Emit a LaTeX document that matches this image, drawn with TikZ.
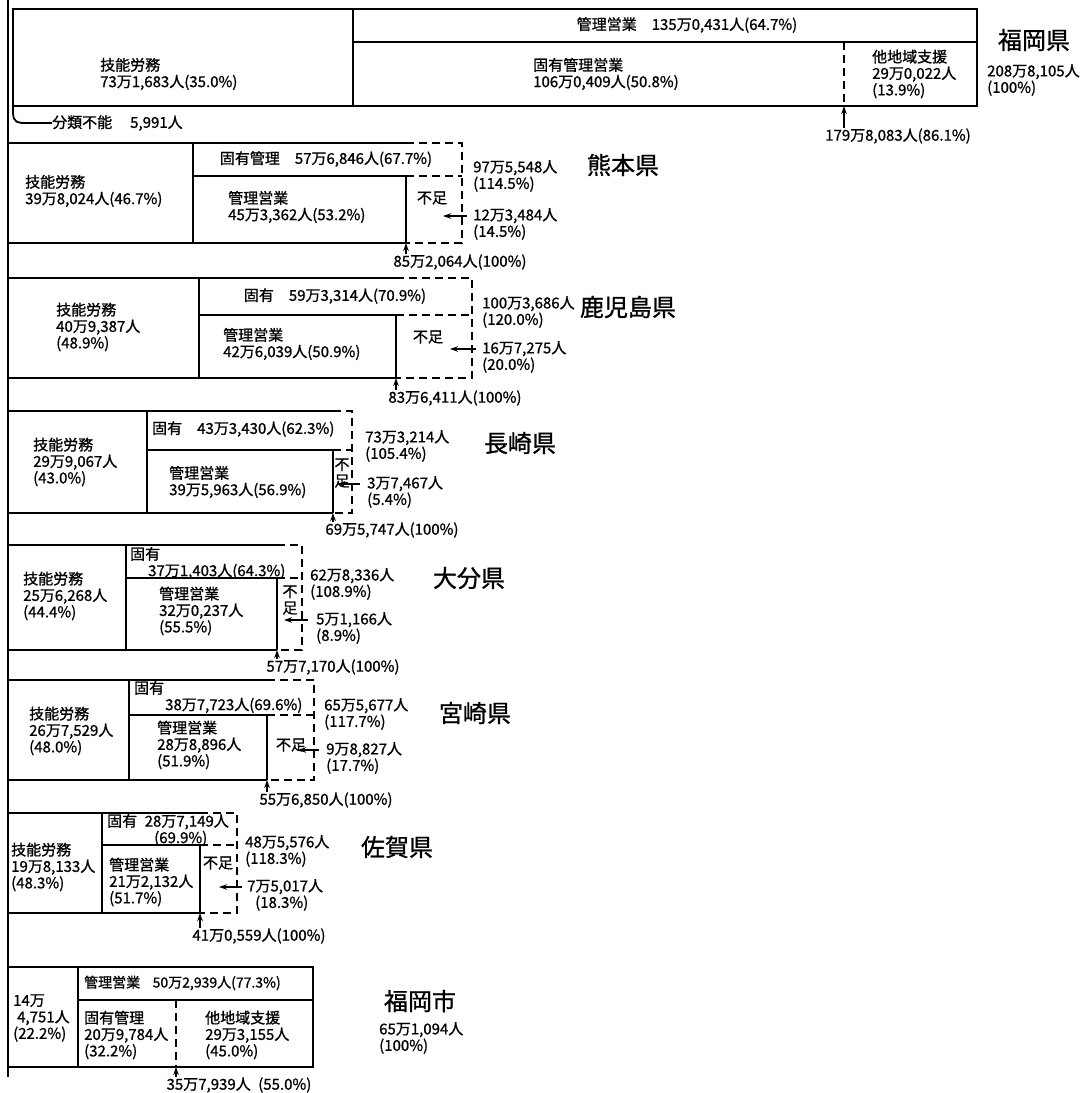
\documentclass[tikz,border=0pt]{standalone}
\usepackage{fontspec}
\setmainfont{Noto Sans CJK JP}[FakeBold=1]
\usetikzlibrary{arrows.meta}
\begin{document}
\begin{tikzpicture}[x=1pt,y=-1pt,>={Stealth[length=8pt,width=5.5pt]},
	every node/.style={inner sep=0pt,align=left,font=\fontsize{15}{16.5}\selectfont},
	box/.style={line width=2.4pt},
	dbox/.style={line width=2.4pt,dash pattern=on 8pt off 5pt},
	pname/.style={font=\fontsize{24}{28}\selectfont},
	arr/.style={->,line width=1.2pt}]
	\useasboundingbox (0,0) rectangle (1082,1093);
	\draw[box] (8,0) -- (8,1077); % tronc commun
	% Fukuoka-ken
	\draw[box] (13,9) rectangle (977,106);
	\draw[box] (353,9) -- (353,106) (353,42) -- (977,42);
	\draw[dbox] (844,42) -- (844,106);
	\node[anchor=west] (fkgino) at (100,74) {技能労務\\73万1,683人(35.0\%)};
	\node (fkkanri) at (687,25) {管理営業\quad 135万0,431人(64.7\%)};
	\node[anchor=west] (fkkoyu) at (533,74) {固有管理営業\\106万0,409人(50.8\%)};
	\node[anchor=west] (fktachi) at (872,74) {他地域支援\\29万0,022人\\(13.9\%)};
	\node[pname] (fkname) at (1034,40) {福岡県};
	\node[anchor=west] (fktotal) at (987,80) {208万8,105人\\(100\%)};
	\node (fksub) at (898,136) {179万8,083人(86.1\%)};
	\node[anchor=west] (fkunk) at (52,123) {分類不能\hspace{18pt}5,991人};
	\coordinate (fkcorner) at (13,106);
	\coordinate (fkend) at (844,106);
	\draw[line width=1.8pt] (fkcorner) -- (13,112) .. controls (13,123) and (18,123) .. (26,123) -- (fkunk.west);
	\draw[arr] (fksub.north -| fkend) -- (fkend);
	% Kumamoto
	\draw[box] (8,143) -- (406,143) (8,243) -- (406,243) (193,143) -- (193,243) (193,176) -- (406,176) -- (406,243);
	\draw[dbox] (406,143) -- (462,143) -- (462,243) -- (406,243) (406,176) -- (462,176);
	\node[anchor=west] (kugino) at (25,191) {技能労務\\39万8,024人(46.7\%)};
	\node (kukoyu) at (326,159) {固有管理\quad 57万6,846人(67.7\%)};
	\node[anchor=west] (kukanri) at (228,207) {管理営業\\45万3,362人(53.2\%)};
	\node (kufusoku) at (432,198) {不足};
	\node[anchor=west] (kusum) at (473,176) {97万5,548人\\(114.5\%)};
	\node[anchor=west] (kuneed) at (473,224) {12万3,484人\\(14.5\%)};
	\node[pname] (kuname) at (623,165) {熊本県};
	\node (kutotal) at (460,262) {85万2,064人(100\%)};
	\coordinate (kuend) at (406,243);
	\coordinate (kutail) at (467,216);
	\coordinate (kutip) at (443,216);
	\draw[arr] (kutail) -- (kutip);
	\draw[arr] (kutotal.north -| kuend) -- (kuend);
	% Kagoshima
	\draw[box] (8,278) -- (396,278) (8,378) -- (396,378) (199,278) -- (199,378) (199,315) -- (396,315) -- (396,378);
	\draw[dbox] (396,278) -- (472,278) -- (472,378) -- (396,378) (396,315) -- (472,315);
	\node[anchor=west] (kggino) at (56,327) {技能労務\\40万9,387人\\(48.9\%)};
	\node (kgkoyu) at (335,296) {固有\quad 59万3,314人(70.9\%)};
	\node[anchor=west] (kgkanri) at (223,344) {管理営業\\42万6,039人(50.9\%)};
	\node (kgfusoku) at (428,337) {不足};
	\node[anchor=west] (kgsum) at (482,312) {100万3,686人\\(120.0\%)};
	\node[anchor=west] (kgneed) at (482,357) {16万7,275人\\(20.0\%)};
	\node[pname] (kgname) at (628,307) {鹿児島県};
	\node (kgtotal) at (455,398) {83万6,411人(100\%)};
	\coordinate (kgend) at (396,378);
	\coordinate (kgtail) at (476,349);
	\coordinate (kgtip) at (450,349);
	\draw[arr] (kgtail) -- (kgtip);
	\draw[arr] (kgtotal.north -| kgend) -- (kgend);
	% Nagasaki
	\draw[box] (8,411) -- (333,411) (8,513) -- (333,513) (147,411) -- (147,513) (147,450) -- (333,450) -- (333,513);
	\draw[dbox] (333,411) -- (352,411) -- (352,513) -- (333,513) (333,450) -- (352,450);
	\node[anchor=west] (nsgino) at (33,462) {技能労務\\29万9,067人\\(43.0\%)};
	\node[anchor=west] (nskoyu) at (152,429) {固有\quad 43万3,430人(62.3\%)};
	\node[anchor=west] (nskanri) at (169,482) {管理営業\\39万5,963人(56.9\%)};
	\node (nsfusoku) at (342,473) {不\\足};
	\node[anchor=west] (nssum) at (365,446) {73万3,214人\\(105.4\%)};
	\node[anchor=west] (nsneed) at (367,492) {3万7,467人\\(5.4\%)};
	\node[pname] (nsname) at (520,443) {長崎県};
	\node (nstotal) at (392,530) {69万5,747人(100\%)};
	\coordinate (nsend) at (333,513);
	\coordinate (nstail) at (360,484);
	\coordinate (nstip) at (337,484);
	\draw[arr] (nstail) -- (nstip);
	\draw[arr] (nstotal.north -| nsend) -- (nsend);
	% Oita
	\draw[box] (8,545) -- (277,545) (8,650) -- (277,650) (126,545) -- (126,650) (126,578) -- (277,578) -- (277,650);
	\draw[dbox] (277,545) -- (302,545) -- (302,650) -- (277,650) (277,578) -- (302,578);
	\node[anchor=west] (otgino) at (23,596) {技能労務\\25万6,268人\\(44.4\%)};
	\node[anchor=west] (otkoyu) at (130,563) {固有\\\hspace*{18pt}37万1,403人(64.3\%)};
	\node[anchor=west] (otkanri) at (159,611) {管理営業\\32万0,237人\\(55.5\%)};
	\node (otfusoku) at (290,600) {不\\足};
	\node[anchor=west] (otsum) at (310,584) {62万8,336人\\(108.9\%)};
	\node[anchor=west] (otneed) at (316,628) {5万1,166人\\(8.9\%)};
	\node[pname] (otname) at (469,578) {大分県};
	\node (ottotal) at (333,667) {57万7,170人(100\%)};
	\coordinate (otend) at (277,650);
	\coordinate (ottail) at (308,620);
	\coordinate (ottip) at (284,620);
	\draw[arr] (ottail) -- (ottip);
	\draw[arr] (ottotal.north -| otend) -- (otend);
	% Miyazaki
	\draw[box] (8,680) -- (267,680) (8,780) -- (267,780) (129,680) -- (129,780) (129,715) -- (267,715) -- (267,780);
	\draw[dbox] (267,680) -- (314,680) -- (314,780) -- (267,780) (267,715) -- (314,715);
	\node[anchor=west] (mzgino) at (29,731) {技能労務\\26万7,529人\\(48.0\%)};
	\node[anchor=west] (mzkoyu) at (134,697) {固有\\\hspace*{31pt}38万7,723人(69.6\%)};
	\node[anchor=west] (mzkanri) at (157,745) {管理営業\\28万8,896人\\(51.9\%)};
	\node (mzfusoku) at (291,745) {不足};
	\node[anchor=west] (mzsum) at (324,714) {65万5,677人\\(117.7\%)};
	\node[anchor=west] (mzneed) at (326,758) {9万8,827人\\(17.7\%)};
	\node[pname] (mzname) at (475,713) {宮崎県};
	\node (mztotal) at (326,800) {55万6,850人(100\%)};
	\coordinate (mzend) at (267,780);
	\coordinate (mztail) at (319,750);
	\coordinate (mztip) at (298,750);
	\draw[arr] (mztail) -- (mztip);
	\draw[arr] (mztotal.north -| mzend) -- (mzend);
	% Saga
	\draw[box] (8,813) -- (200,813) (8,913) -- (200,913) (102,813) -- (102,913) (102,845) -- (200,845) -- (200,913);
	\draw[dbox] (200,813) -- (237,813) -- (237,913) -- (200,913) (200,845) -- (237,845);
	\node[anchor=west] (sggino) at (11,867) {技能労務\\19万8,133人\\(48.3\%)};
	\node[anchor=west] (sgkoyu) at (107,830) {固有\enspace 28万7,149人\\\hspace*{47pt}(69.9\%)};
	\node[anchor=west] (sgkanri) at (109,882) {管理営業\\21万2,132人\\(51.7\%)};
	\node (sgfusoku) at (218,863) {不足};
	\node[anchor=west] (sgsum) at (245,851) {48万5,576人\\(118.3\%)};
	\node[anchor=west] (sgneed) at (247,895) {7万5,017人\\\hspace*{8pt}(18.3\%)};
	\node[pname] (sgname) at (397,847) {佐賀県};
	\node (sgtotal) at (259,936) {41万0,559人(100\%)};
	\coordinate (sgend) at (200,913);
	\coordinate (sgtail) at (242,887);
	\coordinate (sgtip) at (219,887);
	\draw[arr] (sgtail) -- (sgtip);
	\draw[arr] (sgtotal.north -| sgend) -- (sgend);
	% Fukuoka-shi
	\draw[box] (8,967) -- (313,967) -- (313,1067) -- (8,1067) (78,967) -- (78,1067) (78,1000) -- (313,1000);
	\draw[dbox] (176,1000) -- (176,1067);
	\node[anchor=west] (fsleft) at (13,1018) {14万\\\hspace*{4pt}4,751人\\(22.2\%)};
	\node[anchor=west,font=\fontsize{14}{16.5}\selectfont] (fskanri) at (84,983) {管理営業\enspace\, 50万2,939人(77.3\%)};
	\node[anchor=west] (fskoyu) at (84,1035) {固有管理\\20万9,784人\\(32.2\%)};
	\node[anchor=west] (fstachi) at (205,1035) {他地域支援\\29万3,155人\\(45.0\%)};
	\node[pname] (fsname) at (420,1001) {福岡市};
	\node[anchor=west] (fstotal) at (379,1038) {65万1,094人\\(100\%)};
	\node (fssub) at (239,1085) {35万7,939人\enspace (55.0\%)};
	\coordinate (fsend) at (176,1067);
	\draw[arr] (fssub.north -| fsend) -- (fsend);
\end{tikzpicture}
\end{document}
